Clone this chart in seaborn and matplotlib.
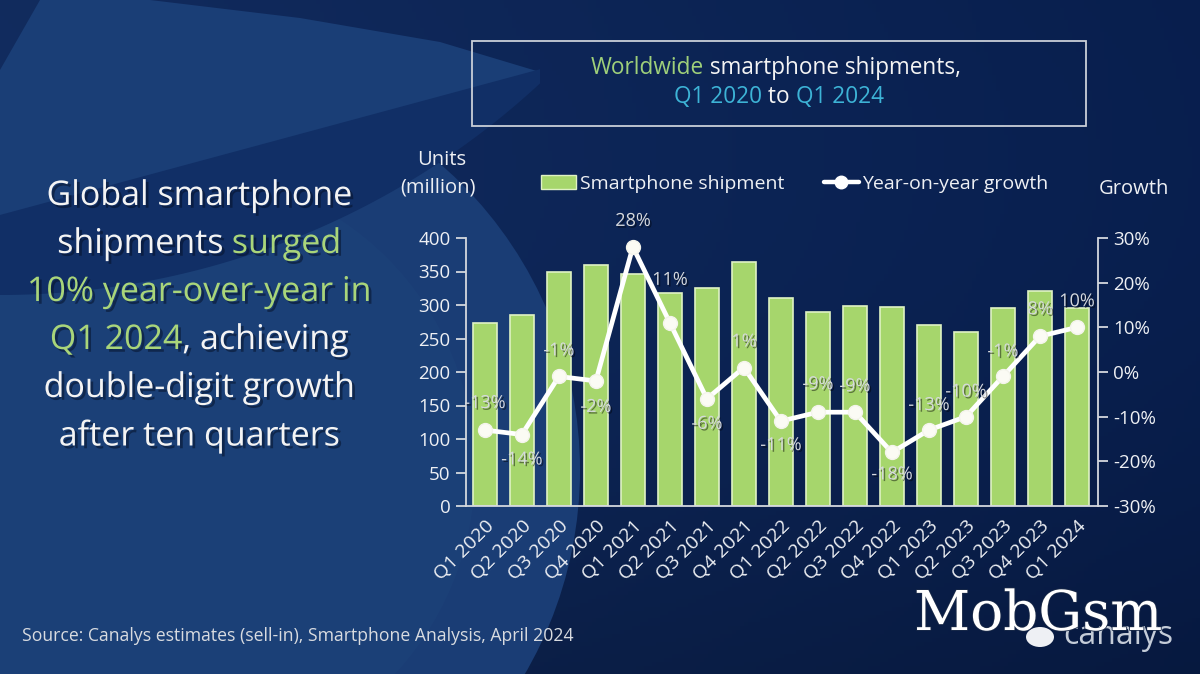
import numpy as np
import pandas as pd
import matplotlib
matplotlib.use("Agg")
import matplotlib.pyplot as plt
import seaborn as sns
from matplotlib.patches import Circle, Polygon, Rectangle, Ellipse, Patch
from matplotlib.lines import Line2D
import matplotlib.patheffects as pe

# ---------------- data ----------------
quarters = ["Q1 2020", "Q2 2020", "Q3 2020", "Q4 2020",
            "Q1 2021", "Q2 2021", "Q3 2021", "Q4 2021",
            "Q1 2022", "Q2 2022", "Q3 2022", "Q4 2022",
            "Q1 2023", "Q2 2023", "Q3 2023", "Q4 2023", "Q1 2024"]
shipments = [273, 285, 349, 360, 347, 318, 326, 364,
             311, 289, 298, 297, 270, 259, 295, 321, 296]
growth = [-13, -14, -1, -2, 28, 11, -6, 1,
          -11, -9, -9, -18, -13, -10, -1, 8, 10]
units_ticks = [0, 50, 100, 150, 200, 250, 300, 350, 400]
growth_ticks = [-30, -20, -10, 0, 10, 20, 30]

# label placement (style): offset in pixels, + above / - below
label_offsets_px = [27, -25, 26, -26, 26, 43, -25, 26,
                    -24, 28, 26, -22, 25, 25, 25, 27, 26]

df = pd.DataFrame({"quarter": quarters, "units": shipments,
                   "growth": growth, "pos": np.arange(len(quarters))})

W, H = 1200, 674
GREEN = "#a6d66c"
GREEN_EDGE = "#dff2c4"
TXT = "#eef0f4"
LBL = "#d6d9de"
FONT = ["Open Sans", "DejaVu Sans"]

sns.set_style("ticks")
plt.rcParams["font.family"] = FONT

fig = plt.figure(figsize=(W / 100, H / 100), dpi=100)
fig.patch.set_facecolor("#0b2658")

# ---------------- background ----------------
bg = fig.add_axes([0, 0, 1, 1])
bg.set_xlim(0, W)
bg.set_ylim(H, 0)
bg.axis("off")
bg.set_zorder(0)
xx = np.linspace(0, 1, 300)[None, :]
yy = np.linspace(0, 1, 170)[:, None]
left = np.array([0.075, 0.185, 0.40])
right = np.array([0.035, 0.13, 0.33])
grad = left[None, None, :] * (1 - xx[..., None]) + right[None, None, :] * xx[..., None]
grad = grad * (1.0 - 0.18 * yy[..., None]) * (0.92 + 0.08 * np.sin(np.pi * yy[..., None]))
bg.imshow(np.clip(grad, 0, 1), extent=(0, W, H, 0), aspect="auto", zorder=0)

# big lighter disc
bg.add_patch(Circle((175, 470), 405, facecolor="#1a3d75", edgecolor="none", zorder=1))
bg.add_patch(Circle((175, 470), 300, facecolor="#21497f", edgecolor="none", alpha=0.25, zorder=1))
# light swoosh at top-left
bg.add_patch(Polygon([(0, 70), (40, 0), (150, 0), (300, 18), (440, 42), (540, 72),
                      (400, 112), (200, 165), (0, 215)],
                     closed=True, facecolor="#1a3e76", edgecolor="none", zorder=2))
# dark band (crescent)
xs = np.linspace(0, 540, 60)
upper = 215 - 0.27 * xs
lower = -500 + np.sqrt(795 ** 2 - xs ** 2)
band = np.vstack([np.column_stack([xs, upper]), np.column_stack([xs[::-1], lower[::-1]])])
bg.add_patch(Polygon(band, closed=True, facecolor="#112f66", edgecolor="none", zorder=3))

# ---------------- main chart ----------------
ax_l, ax_r, ax_t, ax_b = 466, 1098, 238, 506
ax = fig.add_axes([ax_l / W, 1 - ax_b / H, (ax_r - ax_l) / W, (ax_b - ax_t) / H])
ax2 = ax.twinx()
ax.set_zorder(5)
ax2.set_zorder(6)
ax.patch.set_alpha(0)
ax2.patch.set_alpha(0)

sns.barplot(data=df, x="pos", y="units", ax=ax, color=GREEN, width=0.64,
            edgecolor=GREEN_EDGE, linewidth=1.2, saturation=1)
for b in ax.patches:
    b.set_facecolor(GREEN)

sns.lineplot(data=df, x="pos", y="growth", ax=ax2, color="white", lw=3.4,
             marker="o", markersize=10, markeredgecolor="#f4f4ec", markerfacecolor="#fbfbf4",
             markeredgewidth=1, zorder=10)

ax.set_xlim(-0.51, len(quarters) - 1 + 0.57)
ax.set_ylim(0, 400)
ax2.set_ylim(-30, 30)
ax.set_yticks(units_ticks)
ax.set_yticklabels([str(v) for v in units_ticks])
ax2.set_yticks(growth_ticks)
ax2.set_yticklabels([f"{v}%" for v in growth_ticks])
ax.set_xticks(range(len(quarters)))
ax.set_xticklabels(quarters, rotation=45, ha="right", rotation_mode="anchor")
for a in (ax, ax2):
    a.set_xlabel("")
    a.set_ylabel("")

SP = "#d4d8de"
for a in (ax, ax2):
    for s in a.spines.values():
        s.set_color(SP)
        s.set_linewidth(1.3)
    a.spines["top"].set_visible(False)
ax.spines["right"].set_visible(False)
ax2.spines["left"].set_visible(False)
ax2.spines["bottom"].set_visible(False)

ax.tick_params(axis="y", colors=SP, labelcolor=TXT, labelsize=13.5, length=7, width=1.3, pad=4)
ax2.tick_params(axis="y", colors=SP, labelcolor=TXT, labelsize=13.5, length=7, width=1.3, pad=4)
ax.tick_params(axis="x", length=0, labelcolor=TXT, labelsize=14, pad=8)

shadow = [pe.withSimplePatchShadow(offset=(1.2, -1.2), shadow_rgbFace="black", alpha=0.45)]

for i, (g, off) in enumerate(zip(growth, label_offsets_px)):
    ax2.annotate(f"{g}%", (i, g), xytext=(0, off * 0.72), textcoords="offset points",
                 ha="center", va="center", color=LBL, fontsize=13, zorder=12,
                 path_effects=shadow)

# ---------------- texts ----------------
renderer = fig.canvas.get_renderer()


def seg_line(segs, xc, y, size, effects=None, family=FONT):
    ts, ws = [], []
    for s, c in segs:
        t = fig.text(0, 1 - y / H, s, color=c, fontsize=size, family=family,
                     ha="left", va="center", zorder=20)
        if effects:
            t.set_path_effects(effects)
        ts.append(t)
        ws.append(t.get_window_extent(renderer).width)
    x0 = xc - sum(ws) / 2
    for t, w in zip(ts, ws):
        t.set_x(x0 / W)
        x0 += w


LG = "#a9d57a"
WH = "#f4f4f4"
big_shadow = [pe.withSimplePatchShadow(offset=(2.0, -2.0), shadow_rgbFace="#050f24", alpha=0.5)]
big_lines = [
    [("Global smartphone", WH)],
    [("shipments", WH), (" surged", LG)],
    [("10% year-over-year in", LG)],
    [("Q1 2024", LG), (", achieving", WH)],
    [("double-digit growth", WH)],
    [("after ten quarters", WH)],
]
for k, segs in enumerate(big_lines):
    seg_line(segs, 199, 196 + 48 * k, 24.5, effects=big_shadow)

# title box
fig.patches.append(Rectangle((472 / W, 1 - 126 / H), (1086 - 472) / W, (126 - 41) / H,
                             transform=fig.transFigure, facecolor="none",
                             edgecolor="#c9cfd8", linewidth=1.3, zorder=15))
CY = "#3db3d6"
seg_line([("Worldwide", "#9fd07a"), (" smartphone shipments,", WH)], 776, 68, 16.3)
seg_line([("Q1 2020", CY), (" to ", WH), ("Q1 2024", CY)], 779, 97, 16.3)

# axis titles
fig.text(442 / W, 1 - 160 / H, "Units", color=TXT, fontsize=14.5, ha="center", va="center")
fig.text(438 / W, 1 - 187 / H, "(million)", color=TXT, fontsize=14.5, ha="center", va="center")
fig.text(1134 / W, 1 - 189 / H, "Growth", color=TXT, fontsize=14.5, ha="center", va="center")

# legend
handles = [Patch(facecolor=GREEN, edgecolor=GREEN_EDGE, linewidth=1),
           Line2D([], [], color="white", lw=3.2, marker="o", markersize=9)]
leg = fig.legend(handles, ["Smartphone shipment", "Year-on-year growth"],
                 loc="center", bbox_to_anchor=(795 / W, 1 - 184 / H),
                 bbox_transform=fig.transFigure, ncol=2, frameon=False,
                 fontsize=14, labelcolor=TXT, handlelength=1.8,
                 handletextpad=0.2, columnspacing=2.0)

# source
fig.text(22 / W, 1 - 636 / H, "Source: Canalys estimates (sell-in), Smartphone Analysis, April 2024",
         color="#d8dbe0", fontsize=12.7, ha="left", va="center")

# logo / watermark
fig.patches.append(Ellipse((1040 / W, 1 - 637 / H), 28 / W, 20 / H, transform=fig.transFigure,
                           facecolor="#eef0f4", edgecolor="none", zorder=18))
fig.text(1063 / W, 1 - 644 / H, "canalys", color="#c4ccd8", fontsize=23,
         ha="left", va="baseline", zorder=18)
fig.text(914 / W, 1 - 630 / H, "MobGsm", color="white", fontsize=39.5,
         family=["DejaVu Serif"], ha="left", va="baseline", zorder=19,
         path_effects=[pe.withStroke(linewidth=1.2, foreground="#1a2a48")])

fig.savefig("out.png", dpi=100, facecolor=fig.get_facecolor())
